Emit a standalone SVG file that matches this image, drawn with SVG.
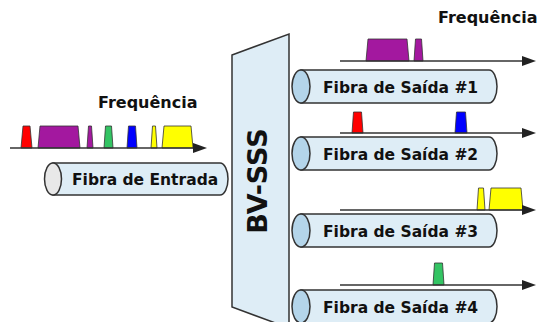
<svg xmlns="http://www.w3.org/2000/svg" width="539" height="322" viewBox="0 0 539 322">
<defs>
<style>
.lbl{font-family:"DejaVu Sans",sans-serif;font-weight:bold;fill:#111}
.fib{fill:#deedf6;stroke:#333;stroke-width:1.5}
.endo{fill:#b4d5ea;stroke:#333;stroke-width:1.5}
.endi{fill:#e8e8e8;stroke:#333;stroke-width:1.5}
.ax{stroke:#333;stroke-width:1.5;fill:none}
.ah{fill:#222}
.p{stroke:#333;stroke-width:0.8}
</style>
</defs>
<rect width="539" height="322" fill="#fff"/>

<g id="spectrum-in">
<text class="lbl" x="98" y="108" font-size="16">Frequência</text>
<polygon class="p" fill="#ff0000" points="21,148 23,126 30,126 32,148"/>
<polygon class="p" fill="#a3189f" points="38,148 40,126 78,126 80,148"/>
<polygon class="p" fill="#a3189f" points="87,148 88.5,126 91.5,126 93,148"/>
<polygon class="p" fill="#33c463" points="104,148 105.5,126 111.5,126 113,148"/>
<polygon class="p" fill="#0000ff" points="127,148 128.5,126 135.5,126 137,148"/>
<polygon class="p" fill="#ffff00" points="151,148 152.5,126 155.5,126 157,148"/>
<polygon class="p" fill="#ffff00" points="162,148 164,126 191,126 193,148"/>
<line class="ax" x1="10" y1="148" x2="195" y2="148"/>
<polygon class="ah" points="193,143 207,148 193,153"/>
</g>

<g id="fibra-entrada">
<path class="fib" d="M53,163 H220 A8,16 0 0 1 220,195 H53 Z"/>
<ellipse class="endi" cx="53" cy="179" rx="8.5" ry="16"/>
<text class="lbl" x="72" y="185" font-size="15.5">Fibra de Entrada</text>
</g>

<g id="bv-sss">
<polygon points="232,55 289,34 289,328 232,307" fill="#deedf6" stroke="#333" stroke-width="1.5"/>
<text class="lbl" font-size="27" text-anchor="middle" transform="translate(266.5,181) rotate(-90)">BV-SSS</text>
</g>

<g id="spectrum-out">
<text class="lbl" x="438" y="23" font-size="16">Frequência</text>
<polygon class="p" fill="#a3189f" points="366,61 368,39 407,39 409,61"/>
<polygon class="p" fill="#a3189f" points="414,61 415.5,39 421.5,39 423,61"/>
<polygon class="p" fill="#ff0000" points="352,133 353.5,112 361.5,112 363,133"/>
<polygon class="p" fill="#0000ff" points="455,133 456.5,112 465.5,112 467,133"/>
<polygon class="p" fill="#ffff00" points="477,210 478.5,188 483.5,188 485,210"/>
<polygon class="p" fill="#ffff00" points="489,210 491,188 521,188 523,210"/>
<polygon class="p" fill="#33c463" points="433,285 434.5,263 442.5,263 444,285"/>
</g>

<g id="connectors">
<line class="ax" x1="340" y1="61" x2="524" y2="61"/>
<polygon class="ah" points="522,56 536,61 522,66"/>
<line class="ax" x1="340" y1="133" x2="524" y2="133"/>
<polygon class="ah" points="522,128 536,133 522,138"/>
<line class="ax" x1="340" y1="210" x2="524" y2="210"/>
<polygon class="ah" points="522,205 536,210 522,215"/>
<line class="ax" x1="340" y1="285" x2="524" y2="285"/>
<polygon class="ah" points="522,280 536,285 522,290"/>
</g>

<g id="fibra-saida-1">
<path class="fib" d="M301,70 H489 A8,16.5 0 0 1 489,103 H301 Z"/>
<ellipse class="endo" cx="301" cy="86.5" rx="9" ry="16.5"/>
<text class="lbl" x="323" y="92.5" font-size="15.5">Fibra de Saída #1</text>
</g>
<g id="fibra-saida-2">
<path class="fib" d="M301,137 H489 A8,16.5 0 0 1 489,170 H301 Z"/>
<ellipse class="endo" cx="301" cy="153.5" rx="9" ry="16.5"/>
<text class="lbl" x="323" y="159.5" font-size="15.5">Fibra de Saída #2</text>
</g>
<g id="fibra-saida-3">
<path class="fib" d="M301,214 H489 A8,16.5 0 0 1 489,247 H301 Z"/>
<ellipse class="endo" cx="301" cy="230.5" rx="9" ry="16.5"/>
<text class="lbl" x="323" y="236.5" font-size="15.5">Fibra de Saída #3</text>
</g>
<g id="fibra-saida-4">
<path class="fib" d="M301,290 H489 A8,16.5 0 0 1 489,323 H301 Z"/>
<ellipse class="endo" cx="301" cy="306.5" rx="9" ry="16.5"/>
<text class="lbl" x="323" y="312.5" font-size="15.5">Fibra de Saída #4</text>
</g>
</svg>
